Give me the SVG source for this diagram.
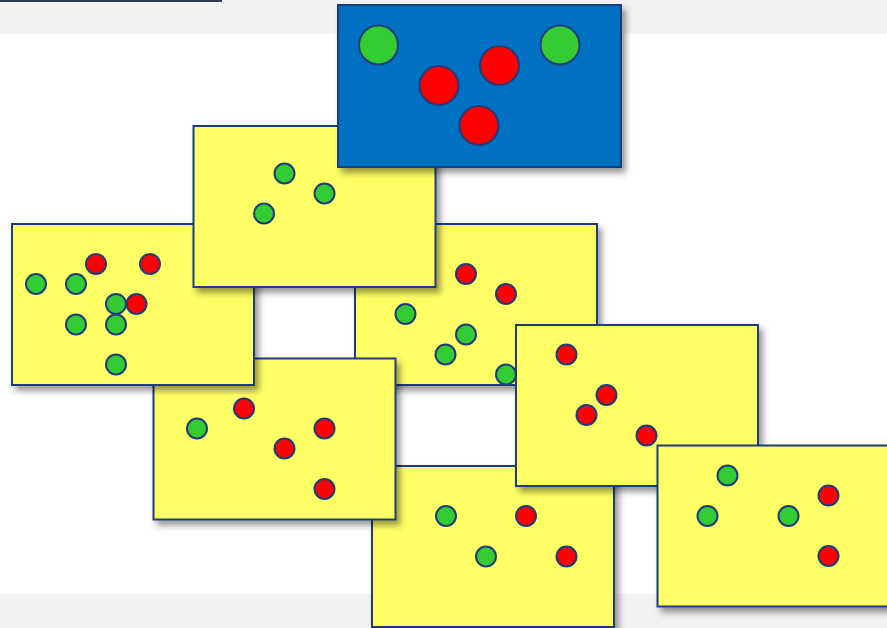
<svg xmlns="http://www.w3.org/2000/svg" width="887" height="628" viewBox="0 0 887 628">
<style>
.card{fill:#ffff66;stroke:#1f3d7a;stroke-width:2;filter:url(#sh)}
.blue{fill:#0070c0;stroke:#1f3d7a;stroke-width:2;filter:url(#sh)}
.g{fill:#33cc33;stroke:#1f3d7a;stroke-width:2}
.r{fill:#ff0000;stroke:#1f3d7a;stroke-width:2}
</style>
<defs>
<filter id="sh" x="-10%" y="-10%" width="130%" height="130%">
<feDropShadow dx="4" dy="5" stdDeviation="3" flood-color="#000" flood-opacity="0.4"/>
</filter>
</defs>
<rect x="0" y="0" width="887" height="628" fill="#ffffff"/>
<rect x="0" y="0" width="887" height="33.5" fill="#f2f2f2"/>
<rect x="0" y="594" width="887" height="34" fill="#f2f2f2"/>
<rect x="0" y="0" width="222" height="2" fill="#333f50"/>

<g id="card6">
<rect class="card" x="372" y="466" width="242" height="161"/>
<circle class="g" cx="446" cy="516" r="10"/>
<circle class="r" cx="526" cy="516" r="10"/>
<circle class="g" cx="486" cy="556.5" r="10"/>
<circle class="r" cx="566.5" cy="556.5" r="10"/>
</g>
<g id="card3">
<rect class="card" x="355" y="224" width="242" height="161"/>
<circle class="r" cx="466" cy="274" r="10"/>
<circle class="r" cx="506" cy="294" r="10"/>
<circle class="g" cx="405.5" cy="314" r="10"/>
<circle class="g" cx="466" cy="334.5" r="10"/>
<circle class="g" cx="445.5" cy="354.5" r="10"/>
<circle class="g" cx="506" cy="374.5" r="10"/>
</g>
<g id="card4">
<rect class="card" x="153.5" y="358.5" width="242" height="161"/>
<circle class="g" cx="197" cy="428.5" r="10"/>
<circle class="r" cx="244" cy="408.5" r="10"/>
<circle class="r" cx="324.5" cy="428.5" r="10"/>
<circle class="r" cx="284.5" cy="448.5" r="10"/>
<circle class="r" cx="324.5" cy="489" r="10"/>
</g>
<g id="card2">
<rect class="card" x="12" y="224" width="242" height="161"/>
<circle class="g" cx="36" cy="284" r="10"/>
<circle class="g" cx="76" cy="284" r="10"/>
<circle class="r" cx="96" cy="264" r="10"/>
<circle class="r" cx="150" cy="264" r="10"/>
<circle class="g" cx="116" cy="304" r="10"/>
<circle class="r" cx="136.5" cy="304" r="10"/>
<circle class="g" cx="76" cy="324.5" r="10"/>
<circle class="g" cx="116" cy="324.5" r="10"/>
<circle class="g" cx="116" cy="364.5" r="10"/>
</g>
<g id="card1">
<rect class="card" x="193.5" y="126" width="242" height="161"/>
<circle class="g" cx="284.5" cy="173.5" r="10"/>
<circle class="g" cx="324.5" cy="193.5" r="10"/>
<circle class="g" cx="264" cy="213.5" r="10"/>
</g>
<g id="blueCard">
<rect class="blue" x="338" y="5" width="283" height="162"/>
<circle class="g" cx="378.5" cy="45" r="19.5"/>
<circle class="g" cx="560" cy="45" r="19.5"/>
<circle class="r" cx="439" cy="85.5" r="19.5"/>
<circle class="r" cx="499.5" cy="65.5" r="19.5"/>
<circle class="r" cx="479" cy="125.5" r="19.5"/>
</g>
<g id="card5">
<rect class="card" x="516" y="325" width="242" height="161"/>
<circle class="r" cx="566.5" cy="354.5" r="10"/>
<circle class="r" cx="606.5" cy="395" r="10"/>
<circle class="r" cx="586.5" cy="415" r="10"/>
<circle class="r" cx="646.5" cy="435.5" r="10"/>
</g>
<g id="card7">
<rect class="card" x="657.5" y="445.5" width="242" height="161"/>
<circle class="g" cx="727.5" cy="475.5" r="10"/>
<circle class="g" cx="707.5" cy="516" r="10"/>
<circle class="g" cx="788.5" cy="516" r="10"/>
<circle class="r" cx="828.5" cy="495.5" r="10"/>
<circle class="r" cx="828.5" cy="556" r="10"/>
</g>
<g id="connectors"></g>
</svg>
